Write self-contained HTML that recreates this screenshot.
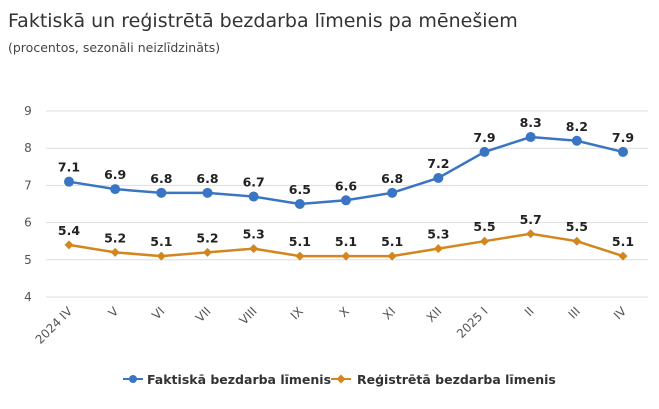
<!DOCTYPE html>
<html><head><meta charset="utf-8"><style>
body{margin:0;background:#fff;font-family:"DejaVu Sans","Liberation Sans",sans-serif}
</style></head><body>
<svg width="659" height="405" xmlns="http://www.w3.org/2000/svg" id="c" font-family="DejaVu Sans, Liberation Sans, sans-serif">
<text x="8" y="27" font-size="19" fill="#333">Faktiskā un reģistrētā bezdarba līmenis pa mēnešiem</text>
<text x="8" y="52" font-size="12.5" fill="#444">(procentos, sezonāli neizlīdzināts)</text>
<g id="grid"></g><g id="series"></g>
<g>
<g><line x1="123" y1="379" x2="143" y2="379" stroke="#3a75c4" stroke-width="2"/><circle cx="133" cy="379" r="4" fill="#3a75c4"/><text x="147" y="384" font-size="12.5" font-weight="bold" fill="#333">Faktiskā bezdarba līmenis</text></g>
<g><line x1="331" y1="379" x2="351" y2="379" stroke="#d4861e" stroke-width="2"/><path d="M341 374.5L345.5 379L341 383.5L336.5 379Z" fill="#d4861e"/><text x="357" y="384" font-size="12.5" font-weight="bold" fill="#333">Reģistrētā bezdarba līmenis</text></g>
</g>
</svg>
<script>
const categories=["2024 IV","V","VI","VII","VIII","IX","X","XI","XII","2025 I","II","III","IV"];
const actual=[7.1,6.9,6.8,6.8,6.7,6.5,6.6,6.8,7.2,7.9,8.3,8.2,7.9];
const registered=[5.4,5.2,5.1,5.2,5.3,5.1,5.1,5.1,5.3,5.5,5.7,5.5,5.1];
const yTicks=[4,5,6,7,8,9];
const NS="http://www.w3.org/2000/svg";
const xS=i=>69+i*(623-69)/(categories.length-1);
const yS=v=>297-(v-4)*37.2;
function mk(t,a,p){const e=document.createElementNS(NS,t);for(const k in a)e.setAttribute(k,a[k]);p.appendChild(e);return e;}
const g=document.getElementById('grid'),s=document.getElementById('series');
yTicks.forEach(v=>{const l=mk('line',{x1:46,x2:648,y1:yS(v),y2:yS(v),stroke:'#ddd'},g);


const t=mk('text',{x:28,y:yS(v)+4,'font-size':12,fill:'#555','text-anchor':'middle'},g);t.textContent=v;

});
categories.forEach((c,i)=>{const x=xS(i)+4,y=312;const t=mk('text',{x:x,y:y,'font-size':12,fill:'#555','text-anchor':'end',transform:`rotate(-45 ${x} ${y})`},g);t.textContent=c;

});
function draw(vals,col,shape,name){
const p=mk('polyline',{points:vals.map((v,i)=>xS(i)+','+yS(v)).join(' '),fill:'none',stroke:col,'stroke-width':2.5},s);


vals.forEach((v,i)=>{const x=xS(i),y=yS(v);let m;
if(shape==='c')m=mk('circle',{cx:x,cy:y,r:5,fill:col},s);
else m=mk('path',{d:`M${x} ${y-4.5}L${x+4.5} ${y}L${x} ${y+4.5}L${x-4.5} ${y}Z`,fill:col},s);


const t=mk('text',{x:x,y:y-10,'font-size':12.5,'font-weight':'bold',fill:'#222','text-anchor':'middle'},s);t.textContent=v.toFixed(1);

});}
draw(actual,'#3a75c4','c','actual');
draw(registered,'#d4861e','d','registered');
</script>
</body></html>
